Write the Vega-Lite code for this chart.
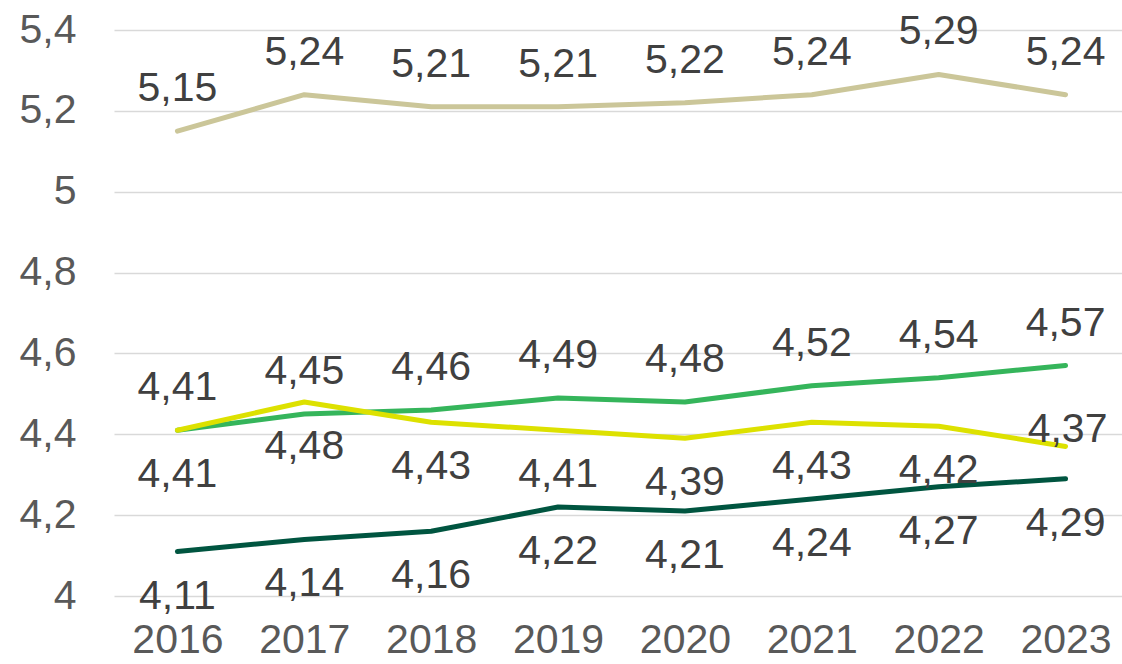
{
  "$schema": "https://vega.github.io/schema/vega-lite/v6.json",
  "width": 1015,
  "height": 566,
  "autosize": {"type": "none"},
  "padding": {"left": 114, "top": 30, "right": 0, "bottom": 68},
  "background": "white",
  "config": {
    "locale": {"number": {"decimal": ",", "thousands": ".", "grouping": [3], "currency": ["", " €"]}},
    "view": {"stroke": null},
    "font": "Liberation Sans"
  },
  "data": {
    "values": [
      {"year": "2016", "series": "Serie 1", "value": 5.15},
      {"year": "2017", "series": "Serie 1", "value": 5.24},
      {"year": "2018", "series": "Serie 1", "value": 5.21},
      {"year": "2019", "series": "Serie 1", "value": 5.21},
      {"year": "2020", "series": "Serie 1", "value": 5.22},
      {"year": "2021", "series": "Serie 1", "value": 5.24},
      {"year": "2022", "series": "Serie 1", "value": 5.29},
      {"year": "2023", "series": "Serie 1", "value": 5.24},
      {"year": "2016", "series": "Serie 2", "value": 4.41},
      {"year": "2017", "series": "Serie 2", "value": 4.45},
      {"year": "2018", "series": "Serie 2", "value": 4.46},
      {"year": "2019", "series": "Serie 2", "value": 4.49},
      {"year": "2020", "series": "Serie 2", "value": 4.48},
      {"year": "2021", "series": "Serie 2", "value": 4.52},
      {"year": "2022", "series": "Serie 2", "value": 4.54},
      {"year": "2023", "series": "Serie 2", "value": 4.57},
      {"year": "2016", "series": "Serie 3", "value": 4.41},
      {"year": "2017", "series": "Serie 3", "value": 4.48},
      {"year": "2018", "series": "Serie 3", "value": 4.43},
      {"year": "2019", "series": "Serie 3", "value": 4.41},
      {"year": "2020", "series": "Serie 3", "value": 4.39},
      {"year": "2021", "series": "Serie 3", "value": 4.43},
      {"year": "2022", "series": "Serie 3", "value": 4.42},
      {"year": "2023", "series": "Serie 3", "value": 4.37},
      {"year": "2016", "series": "Serie 4", "value": 4.11},
      {"year": "2017", "series": "Serie 4", "value": 4.14},
      {"year": "2018", "series": "Serie 4", "value": 4.16},
      {"year": "2019", "series": "Serie 4", "value": 4.22},
      {"year": "2020", "series": "Serie 4", "value": 4.21},
      {"year": "2021", "series": "Serie 4", "value": 4.24},
      {"year": "2022", "series": "Serie 4", "value": 4.27},
      {"year": "2023", "series": "Serie 4", "value": 4.29}
    ]
  },
  "encoding": {
    "x": {
      "field": "year", "type": "ordinal",
      "scale": {"type": "point", "padding": 0.5},
      "axis": {"title": null, "labelAngle": 0, "domain": false, "ticks": false, "grid": false,
               "labelFontSize": 41, "labelColor": "#595959", "labelPadding": 24, "labelFont": "Liberation Sans"}
    },
    "y": {
      "field": "value", "type": "quantitative",
      "scale": {"domain": [4, 5.4], "nice": false, "zero": false},
      "axis": {"title": null, "values": [4, 4.2, 4.4, 4.6, 4.8, 5, 5.2, 5.4], "format": ".1~f",
               "domain": false, "ticks": false, "gridColor": "#D9D9D9", "gridWidth": 1.5,
               "labelFontSize": 41, "labelColor": "#595959", "labelPadding": 38, "labelFont": "Liberation Sans"}
    }
  },
  "layer": [
    {
      "mark": {"type": "line", "strokeWidth": 5, "strokeCap": "round", "strokeJoin": "round"},
      "encoding": {
        "color": {
          "field": "series", "type": "nominal", "legend": null,
          "scale": {"domain": ["Serie 1", "Serie 2", "Serie 3", "Serie 4"],
                    "range": ["#CBC699", "#35B55B", "#DDE100", "#005540"]}
        },
        "order": {"field": "series"}
      }
    },
    {
      "transform": [{"filter": "datum.series == 'Serie 1' || datum.series == 'Serie 2'"}],
      "mark": {"type": "text", "fontSize": 41, "color": "#404040", "dy": -42, "baseline": "middle", "font": "Liberation Sans"},
      "encoding": {"text": {"field": "value", "type": "quantitative", "format": ".2f"}}
    },
    {
      "transform": [{"filter": "datum.series == 'Serie 4' || (datum.series == 'Serie 3' && datum.year != '2023')"}],
      "mark": {"type": "text", "fontSize": 41, "color": "#404040", "dy": 45, "baseline": "middle", "font": "Liberation Sans"},
      "encoding": {"text": {"field": "value", "type": "quantitative", "format": ".2f"}}
    },
    {
      "transform": [{"filter": "datum.series == 'Serie 3' && datum.year == '2023'"}],
      "mark": {"type": "text", "fontSize": 41, "color": "#404040", "dy": -16, "dx": 2, "baseline": "middle", "font": "Liberation Sans"},
      "encoding": {"text": {"field": "value", "type": "quantitative", "format": ".2f"}}
    }
  ]
}
